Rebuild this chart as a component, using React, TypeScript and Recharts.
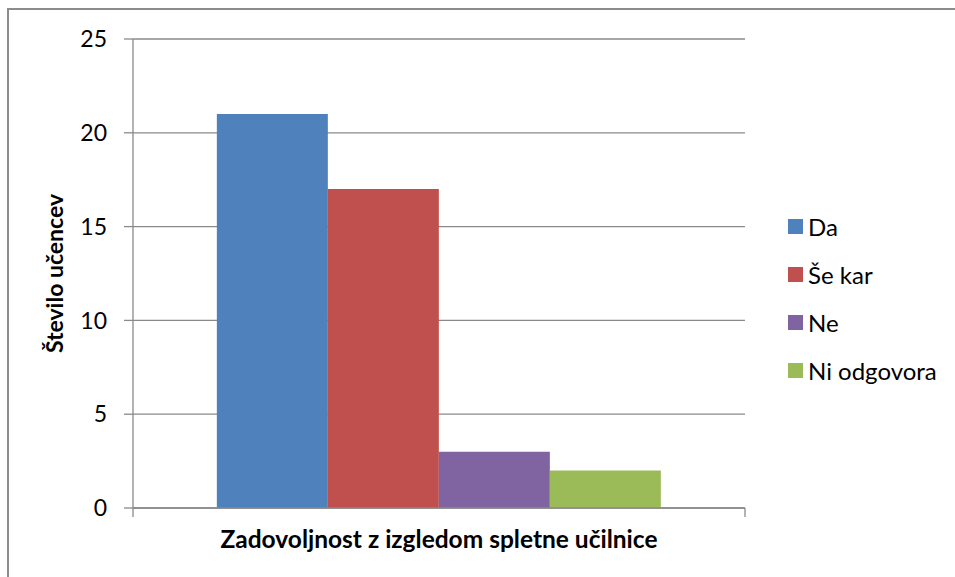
import React from 'react';
import { BarChart, Bar, XAxis, YAxis, CartesianGrid, Legend } from 'recharts';

const categories = ['Zadovoljnost z izgledom spletne učilnice'];
const seriesNames = ['Da', 'Še kar', 'Ne', 'Ni odgovora'];
const seriesKeys = ['da', 'sekar', 'ne', 'ni'];
const seriesColors = ['#4F81BD', '#C0504D', '#8064A2', '#9BBB59'];
const daValues = [21];
const seKarValues = [17];
const neValues = [3];
const niValues = [2];
const yTicks = [0, 5, 10, 15, 20, 25];
const yTitle = 'Število učencev';

const data = categories.map((name, i) => ({
  name,
  da: daValues[i],
  sekar: seKarValues[i],
  ne: neValues[i],
  ni: niValues[i],
}));

const FONT = 'Lato, "Open Sans", sans-serif';
const AXIS = '#8A8A8A';

const LegendContent = (props: any) => {
  const payload = [...(props.payload || [])].sort(
    (a: any, b: any) => seriesNames.indexOf(a.value) - seriesNames.indexOf(b.value)
  );
  return (
    <div style={{ fontFamily: FONT, fontSize: 24, color: '#000' }}>
      {payload.map((p: any) => (
        <div key={p.value} style={{ height: 48, display: 'flex', alignItems: 'center' }}>
          <span style={{ display: 'inline-block', width: 15, height: 15, background: p.color, marginRight: 5 }} />
          <span>{p.value}</span>
        </div>
      ))}
    </div>
  );
};

const CategoryTick = (props: any) => {
  const { x, y, payload } = props;
  const half = payload && typeof payload.offset === 'number' ? payload.offset : 0;
  return (
    <g>
      <line x1={x - half} x2={x - half} y1={y} y2={y + 9} stroke={AXIS} strokeWidth={1.3} />
      <line x1={x + half} x2={x + half} y1={y} y2={y + 9} stroke={AXIS} strokeWidth={1.3} />
      <text x={x} y={y + 40} textAnchor="middle" fontFamily={FONT} fontWeight="bold" fontSize={24.5} fill="#000">
        {payload.value}
      </text>
    </g>
  );
};

export default function App() {
  return (
    <div style={{ position: 'absolute', left: 0, top: 0, width: 955, height: 577, background: '#fff', overflow: 'hidden' }}>
      <div style={{ position: 'absolute', left: 7, top: 8, width: 1000, height: 1000, borderLeft: '2px solid #8C8C8C', borderTop: '2px solid #8C8C8C', boxSizing: 'border-box' }} />
      <div style={{ position: 'absolute', left: 0, top: 0 }}>
        <BarChart
          width={955}
          height={577}
          data={data}
          margin={{ top: 39, right: 210, bottom: 0, left: 0 }}
          barCategoryGap="13.7%"
          barGap={0}
        >
          <CartesianGrid vertical={false} stroke={AXIS} strokeWidth={1.3} />
          <XAxis
            dataKey="name"
            height={69}
            tick={CategoryTick}
            tickLine={false}
            tickSize={0}
            tickMargin={0}
            interval={0}
            axisLine={{ stroke: AXIS, strokeWidth: 1.3 }}
          />
          <YAxis
            width={133}
            domain={[0, 25]}
            ticks={yTicks}
            tickSize={9}
            tickMargin={17}
            axisLine={{ stroke: AXIS, strokeWidth: 1.3 }}
            tickLine={{ stroke: AXIS, strokeWidth: 1.3 }}
            tick={{ fontFamily: FONT, fontSize: 23, fill: '#000' }}
            label={{
              content: (p: any) => {
                const vb = p.viewBox || { x: 0, y: 39, width: 133, height: 469 };
                const cx = vb.x + 63;
                const cy = vb.y + vb.height / 2;
                return (
                  <text transform={`translate(${cx},${cy}) rotate(-90)`} textAnchor="middle" fontFamily={FONT} fontWeight="bold" fontSize={23} fill="#000">
                    {yTitle}
                  </text>
                );
              },
            }}
          />
          <Legend
            layout="vertical"
            align="center"
            verticalAlign="middle"
            wrapperStyle={{ left: 788, top: 202, width: 170 }}
            content={LegendContent}
          />
          {seriesKeys.map((k, i) => (
            <Bar key={k} dataKey={k} name={seriesNames[i]} fill={seriesColors[i]} isAnimationActive={false} />
          ))}
        </BarChart>
      </div>
    </div>
  );
}
